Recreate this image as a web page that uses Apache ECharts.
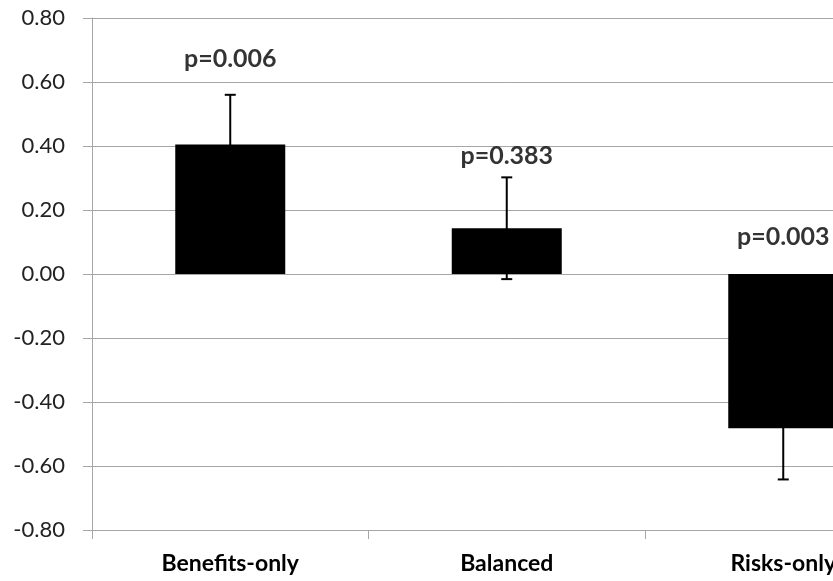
<!DOCTYPE html>
<html>
<head>
<meta charset="utf-8">
<script src="https://cdn.jsdelivr.net/npm/echarts@6/dist/echarts.min.js"></script>
<style>
html,body{margin:0;padding:0;background:#fff;overflow:hidden;width:833px;height:581px;}
#chart{width:922px;height:581px;}
</style>
</head>
<body>
<div id="chart"></div>
<script>
var categories = ['Benefits-only', 'Balanced', 'Risks-only'];
var means = [0.405, 0.143, -0.482];
var errors = [0.155, 0.159, 0.16];
var pLabels = ['p=0.006', 'p=0.383', 'p=0.003'];
var pLabelY = [0.672, 0.369, 0.117];
var yTicks = { min: -0.8, max: 0.8, interval: 0.2 };

var errData = categories.map(function (c, i) {
  return [i, means[i] - errors[i], means[i] + errors[i]];
});
var labelData = categories.map(function (c, i) {
  return { value: [i, pLabelY[i]], name: pLabels[i] };
});

var FONT = 'Lato';
var chart = echarts.init(document.getElementById('chart'));
chart.setOption({
  animation: false,
  backgroundColor: '#ffffff',
  grid: { left: 92, top: 18, height: 512, width: 829.5, containLabel: false },
  xAxis: {
    type: 'category',
    data: categories,
    axisLine: { show: true, onZero: false, lineStyle: { color: '#a6a6a6', width: 1 } },
    axisTick: { show: true, length: 9, lineStyle: { color: '#a6a6a6' } },
    axisLabel: { color: '#000', fontFamily: FONT, fontWeight: 'bold', fontSize: 23, margin: 22 },
    splitLine: { show: false }
  },
  yAxis: {
    type: 'value',
    min: yTicks.min, max: yTicks.max, interval: yTicks.interval,
    axisLine: { show: true, lineStyle: { color: '#a6a6a6', width: 1 } },
    axisTick: { show: true, length: 9, lineStyle: { color: '#a6a6a6' } },
    axisLabel: {
      color: '#222', fontFamily: FONT, fontSize: 22, margin: 27,
      formatter: function (v) { return v.toFixed(2); }
    },
    splitLine: { show: true, lineStyle: { color: '#a6a6a6', width: 1 } }
  },
  series: [
    {
      type: 'bar',
      data: means,
      barWidth: 110,
      itemStyle: { color: '#000' },
      z: 2
    },
    {
      type: 'custom',
      data: errData,
      z: 3,
      renderItem: function (params, api) {
        var x = api.value(0);
        var lo = api.coord([x, api.value(1)]);
        var hi = api.coord([x, api.value(2)]);
        var hw = 5.5;
        var st = { stroke: '#000', lineWidth: 2 };
        return {
          type: 'group',
          children: [
            { type: 'line', shape: { x1: lo[0], y1: lo[1], x2: hi[0], y2: hi[1] }, style: st },
            { type: 'line', shape: { x1: lo[0] - hw, y1: lo[1], x2: lo[0] + hw, y2: lo[1] }, style: st },
            { type: 'line', shape: { x1: hi[0] - hw, y1: hi[1], x2: hi[0] + hw, y2: hi[1] }, style: st }
          ]
        };
      }
    },
    {
      type: 'scatter',
      data: labelData,
      symbolSize: 0,
      z: 4,
      label: {
        show: true,
        position: 'inside',
        formatter: function (p) { return p.name; },
        color: '#000',
        fontFamily: FONT,
        fontWeight: 'bold',
        fontSize: 25
      }
    }
  ]
});
</script>
</body>
</html>
